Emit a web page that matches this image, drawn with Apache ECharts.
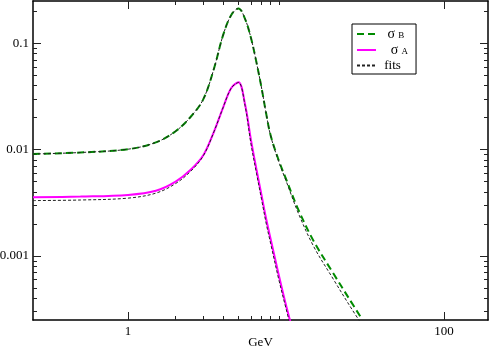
<!DOCTYPE html>
<html>
<head>
<meta charset="utf-8">
<script src="https://cdn.jsdelivr.net/npm/echarts@6/dist/echarts.min.js"></script>
<style>
  html, body { margin: 0; padding: 0; background: #fff; }
  #chart { width: 491px; height: 348px; }
</style>
</head>
<body>
<div id="chart"></div>
<script>
const energy = [0.25, 0.5, 1, 1.5, 2, 2.5, 3, 3.5, 4, 4.5, 5, 5.5, 6, 6.5, 7, 7.5, 8, 9, 10, 12, 15, 20, 25, 30]

// cross sections
const sigmaB = [0.0091, 0.0094, 0.0101, 0.0117, 0.0149, 0.0205, 0.030, 0.058, 0.12, 0.185, 0.213, 0.17, 0.112, 0.066, 0.038, 0.0215, 0.0135, 0.0079, 0.0053, 0.0027, 0.00137, 0.00068, 0.0004, 0.00026]
const sigmaA = [0.00356, 0.00362, 0.00375, 0.0041, 0.0050, 0.0065, 0.0089, 0.0148, 0.025, 0.038, 0.043, 0.0267, 0.0123, 0.0065, 0.0037, 0.0022, 0.00143, 0.00066, 0.000344, 0.000124, null, null, null, null]
const fitB = [0.0091, 0.0094, 0.0101, 0.0117, 0.0149, 0.0205, 0.030, 0.058, 0.12, 0.185, 0.213, 0.17, 0.112, 0.066, 0.038, 0.0215, 0.0134, 0.0077, 0.0051, 0.0025, 0.00122, 0.0006, 0.00035, 0.00023]
const fitA = [0.00332, 0.00336, 0.0035, 0.0039, 0.0048, 0.0063, 0.0088, 0.0148, 0.025, 0.038, 0.0428, 0.026, 0.0113, 0.006, 0.0034, 0.002, 0.0013, 0.0006, 0.00032, 0.00011, null, null, null, null]

// axis ticks
const xMajor = [1, 100]
const xMinor = [2, 3, 4, 5, 6, 7, 8, 9]
const yMajor = [0.001, 0.01, 0.1]
const yMinor = [0.0003, 0.0004, 0.0005, 0.0006, 0.0007, 0.0008, 0.0009,
  0.002, 0.003, 0.004, 0.005, 0.006, 0.007, 0.008, 0.009,
  0.02, 0.03, 0.04, 0.05, 0.06, 0.07, 0.08, 0.09, 0.2]

const xRange = [0.25, 190]
const yRange = [0.00025, 0.25]
const font = 'Liberation Serif'

const pairs = (ys) => energy.map((x, i) => [x, ys[i]]).filter(p => p[1] != null)

const makeAxis = (range, pos, ticks, len, opts = {}) => Object.assign({
  type: 'log',
  min: range[0],
  max: range[1],
  position: pos,
  splitLine: { show: false },
  axisLine: { show: true, lineStyle: { color: '#000', width: 1.5 } },
  axisTick: { show: true, inside: true, length: len, customValues: ticks, lineStyle: { color: '#222', width: 1 } },
  axisLabel: { show: false }
}, opts)

const chart = echarts.init(document.getElementById('chart'))

const option = {
  animation: false,
  backgroundColor: '#fff',
  grid: { left: 33, right: 3, top: 1, bottom: 28, containLabel: false, outerBoundsMode: 'none' },
  xAxis: [
    makeAxis(xRange, 'bottom', xMajor, 8, {
      name: 'GeV',
      nameLocation: 'middle',
      nameGap: 16,
      nameMoveOverlap: false,
      nameTextStyle: { fontFamily: font, fontSize: 13, color: '#000' },
      axisLabel: { show: true, customValues: xMajor, margin: 5, fontFamily: font, fontSize: 13, color: '#000', formatter: v => String(v) }
    }),
    makeAxis(xRange, 'bottom', xMinor, 4, { axisLine: { show: false } }),
    makeAxis(xRange, 'top', xMajor, 8),
    makeAxis(xRange, 'top', xMinor, 4, { axisLine: { show: false } })
  ],
  yAxis: [
    makeAxis(yRange, 'left', yMajor, 8, {
      axisLabel: { show: true, customValues: yMajor, margin: 4, fontFamily: font, fontSize: 13, color: '#000', formatter: v => String(v) }
    }),
    makeAxis(yRange, 'left', yMinor, 4, { axisLine: { show: false } }),
    makeAxis(yRange, 'right', yMajor, 8),
    makeAxis(yRange, 'right', yMinor, 4, { axisLine: { show: false } })
  ],
  legend: {
    left: 352,
    top: 24,
    orient: 'vertical',
    data: ['σB', 'σA', 'fits'],
    itemWidth: 19,
    itemHeight: 10,
    itemGap: 2,
    padding: [3, 8, 2, 4],
    borderColor: '#000',
    borderWidth: 1,
    borderRadius: 0,
    selectedMode: false,
    itemStyle: { color: 'transparent', borderWidth: 0, opacity: 0 },
    textStyle: {
      fontFamily: font,
      fontSize: 13,
      lineHeight: 13,
      color: '#000',
      rich: {
        s: { fontFamily: font, fontSize: 14, lineHeight: 12, color: '#000' },
        sub: { fontFamily: font, fontSize: 9, lineHeight: 9, color: '#000', verticalAlign: 'bottom', padding: [3, 0, 0, 0] }
      }
    },
    formatter: name => {
      if (name === 'σB') return '  {s|σ} {sub|B}'
      if (name === 'σA') return '   {s|σ} {sub|A}'
      return ' ' + name
    }
  },
  series: [
    {
      name: 'σB', type: 'line', data: pairs(sigmaB), showSymbol: false, symbol: 'none', smooth: 0.35,
      lineStyle: { color: '#008b00', width: 2, type: [7, 4] }, itemStyle: { color: '#008b00' }
    },
    {
      name: 'σA', type: 'line', data: pairs(sigmaA), showSymbol: false, symbol: 'none', smooth: 0.35,
      lineStyle: { color: '#ff00ff', width: 2 }, itemStyle: { color: '#ff00ff' }
    },
    {
      name: 'fits', type: 'line', data: pairs(fitB), showSymbol: false, symbol: 'none', smooth: 0.35,
      lineStyle: { color: '#222', width: 1, type: [3, 2] }, itemStyle: { color: '#222' }
    },
    {
      name: 'fits', type: 'line', data: pairs(fitA), showSymbol: false, symbol: 'none', smooth: 0.35,
      lineStyle: { color: '#222', width: 1, type: [3, 2] }, itemStyle: { color: '#222' }
    }
  ]
}

chart.setOption(option)
</script>
</body>
</html>
